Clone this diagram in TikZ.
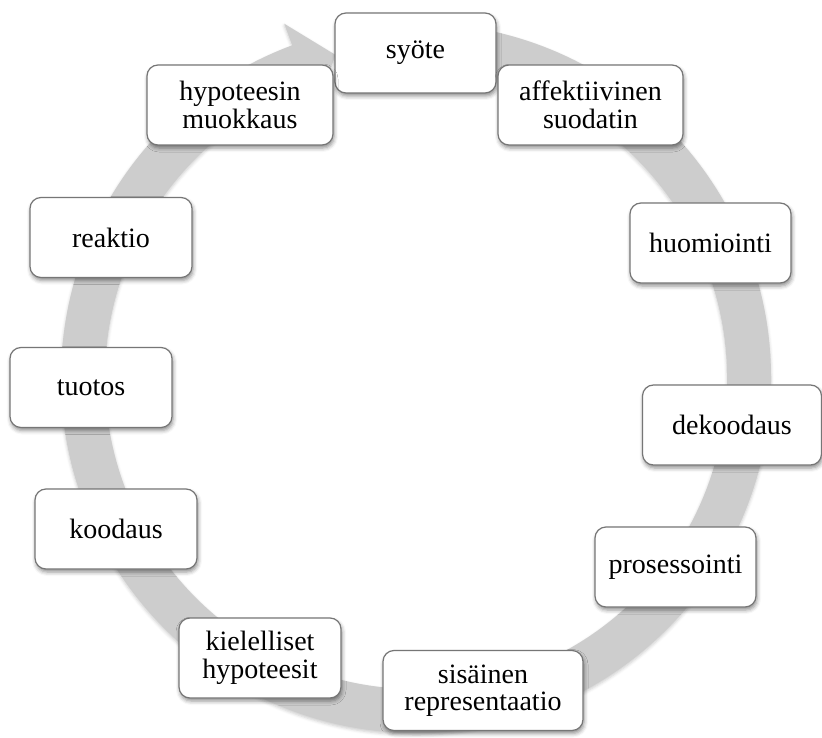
\documentclass[tikz,border=0pt]{standalone}
\usepackage{fontspec}
\setmainfont{Liberation Serif}
\usetikzlibrary{shadows.blur}
\definecolor{ringgray}{RGB}{205,205,205}
\definecolor{boxline}{RGB}{118,118,118}
\begin{document}
\begin{tikzpicture}[x=1pt,y=-1pt,
  box/.style={draw=boxline, line width=1.2pt, fill=white, rounded corners=11pt,
    minimum height=80pt, inner sep=0pt, align=center,
    font=\fontsize{28}{27.5}\selectfont,
    blur shadow={shadow xshift=1pt, shadow yshift=-3pt, shadow blur radius=4pt, shadow opacity=45}},
  ring/.style={fill=ringgray,
    blur shadow={shadow xshift=0pt, shadow yshift=-2pt, shadow blur radius=3pt, shadow opacity=20}}]
\useasboundingbox (0,0) rectangle (822,738);
\begin{scope}[shift={(416,378)}]
  \fill[ring] (-85:355) arc[start angle=-85,end angle=249.6,radius=355]
    -- (249.6:378) -- (256:333) -- (249.6:288) -- (249.6:311)
    arc[start angle=249.6,end angle=-85,radius=311] -- cycle;
\end{scope}
\node[box, minimum width=161pt] (syote) at (415.5,53) {syöte};
\node[box, minimum width=185pt] (affekt) at (590.5,105) {affektiivinen\\suodatin};
\node[box, minimum width=161pt] (huom) at (710.5,243) {huomiointi};
\node[box, minimum width=179pt] (dekood) at (732,425) {dekoodaus};
\node[box, minimum width=161pt] (proses) at (675.5,567) {prosessointi};
\node[box, minimum width=200pt] (sisainen) at (483,690.5) {sisäinen\\representaatio};
\node[box, minimum width=162pt] (kiel) at (260,658) {kielelliset\\hypoteesit};
\node[box, minimum width=162pt] (kood) at (116,529) {koodaus};
\node[box, minimum width=162pt] (tuotos) at (91,387.5) {tuotos};
\node[box, minimum width=162pt] (reaktio) at (111,237.5) {reaktio};
\node[box, minimum width=186pt] (hyp) at (240,105) {hypoteesin\\muokkaus};
\end{tikzpicture}
\end{document}
